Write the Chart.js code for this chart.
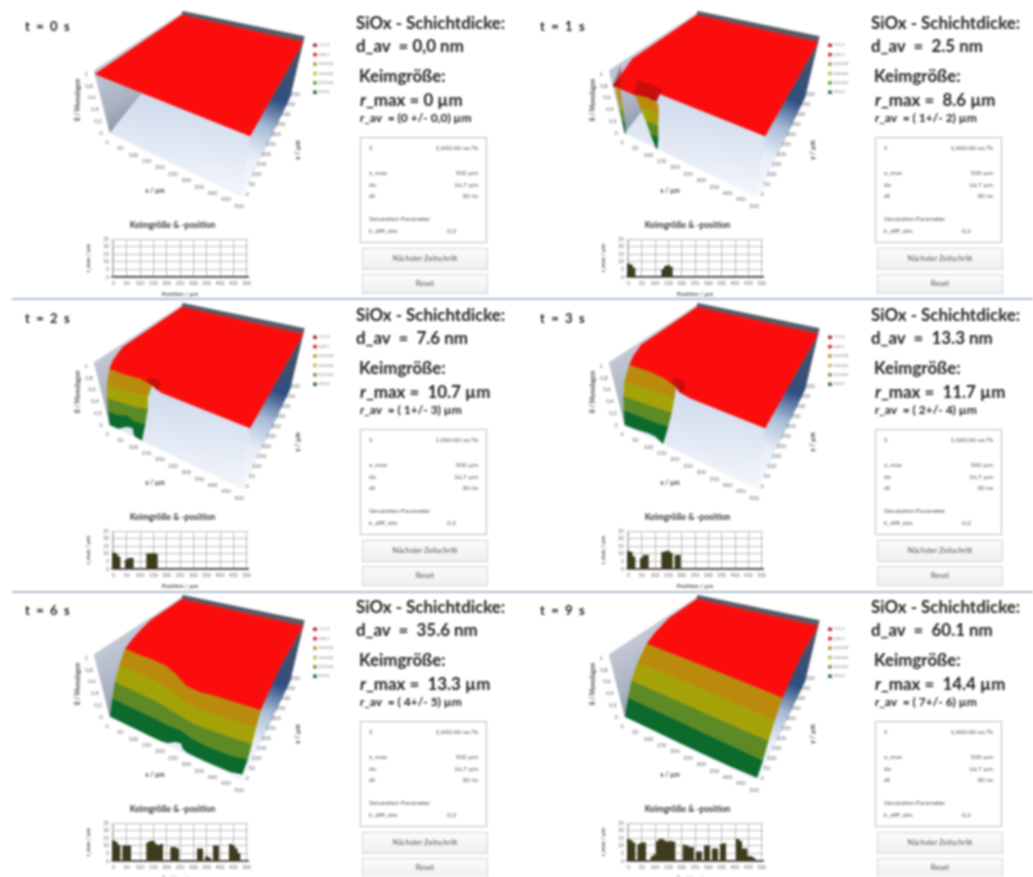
<!DOCTYPE html>
<html lang="de"><head><meta charset="utf-8">
<script src="https://cdn.jsdelivr.net/npm/chart.js@4"></script>
<style>
html,body{margin:0;padding:0;background:#fff;width:1033px;height:877px;overflow:hidden}
#page{position:relative;width:1033px;height:877px;overflow:hidden;filter:blur(.9px);font-family:Lato,"Open Sans",sans-serif;color:#222}
#page canvas{position:absolute}
.t{position:absolute;white-space:pre;line-height:1}
.b{font-weight:700}
.box{position:absolute;border:1px solid #b9bcc0;background:#fff}
.btn{position:absolute;border:1px solid #d2d4d6;background:linear-gradient(#fbfbfb,#f0f0f0);text-align:center;font-size:7.5px;color:#555}
.sep{position:absolute;left:12px;width:1021px;height:2px;background:#aebfd0}
</style></head><body><div id="page"></div>
<script>
// ---- text values per panel
const timeLabels=["t = 0 s","t = 1 s","t = 2 s","t = 3 s","t = 6 s","t = 9 s"];
const dAv=["0,0"," 2.5"," 7.6"," 13.3"," 35.6"," 60.1"];
const rMax=["0"," 8.6"," 10.7"," 11.7"," 13.3"," 14.4"];
const rAv=["(0 +/- 0,0)","( 1+/- 2)","( 1+/- 3)","( 2+/- 4)","( 4+/- 5)","( 7+/- 6)"];
// ---- seed-size bars: r_max in µm per 10 µm position bin (0..500)
const positions=[0,10,20,30,40,50,60,70,80,90,100,110,120,130,140,150,160,170,180,190,200,210,220,230,240,250,260,270,280,290,300,310,320,330,340,350,360,370,380,390,400,410,420,430,440,450,460,470,480,490,500];
const barsT0=[0,0,0,0,0,0,0,0,0,0,0,0,0,0,0,0,0,0,0,0,0,0,0,0,0,0,0,0,0,0,0,0,0,0,0,0,0,0,0,0,0,0,0,0,0,0,0,0,0,0,0];
const barsT1=[8.6,8,6,0,0,0,0,0,0,0,0,0,0,5,7,7.5,6.5,0,0,0,0,0,0,0,0,0,0,0,0,0,0,0,0,0,0,0,0,0,0,0,0,0,0,0,0,0,0,0,0,0,0];
const barsT2=[10.7,10,8,0,0,6,7,7,0,0,0,0,0,10,10,10.2,9.8,0,0,0,0,0,0,0,0,0,0,0,0,0,0,0,0,0,0,0,0,0,0,0,0,0,0,0,0,0,0,0,0,0,0];
const barsT3=[11.7,11,8,0,0,7,9,9,0,0,0,0,0,11,11.5,11.7,10.5,0,9,9,0,0,0,0,0,0,0,0,0,0,0,0,0,0,0,0,0,0,0,0,0,0,0,0,0,0,0,0,0,0,0];
const barsT6=[13.3,12.5,10.5,0,10,10,10,0,0,0,0,0,0,12,13,13,11,10,11,0,0,0,9,9,8,0,0,0,0,0,0,0,8,8,0,3,2,0,10,10,0,0,0,0,11,10,8,5,0,0,0];
const barsT9=[14.4,13.5,12,0,11,12,12,0,0,3,4,13,14.4,14,13,12.5,13,12.5,0,0,0,10.5,10,9,9,0,6,6,0,10,10,0,8,8,0,11,11.5,0,0,0,0,14.4,13,8,8,3,3,2,0,0,0];
const barSeries=[barsT0,barsT1,barsT2,barsT3,barsT6,barsT9];
// ---- 3D axes
const xyTicks=[0,50,100,150,200,250,300,350,400,450,500];
const zTicks=[0,0.2,0.4,0.6,0.8,1];
const legendLabels=["1-1,2","0,8-1","0,6-0,8","0,4-0,6","0,2-0,4","0-0,2"];
const legendColors=["#a83040","#dc3040","#b8a040","#c4c45c","#78a050","#2f7050"];
// ---- surface contours [x µm, y µm] at height levels 0.8,0.6,0.4,0.2,0 and red rim [x,y,z]
const rimT0=[[0,0,1],[500,0,1]];
const rimT1=[[0,130,1],[0,0,.8],[80,0,.8],[145,0,.85],[160,0,1],[500,0,1]];
const shadeT1a=[[70,0,.8],[72,30,.97],[110,45,.95],[155,30,.97],[160,0,1],[145,0,.82]];
const shadeT1b=[[0,60,1],[0,0,.8],[22,0,.8],[22,25,1]];
const sliverT1=[[[10,0],[22,0]],[[8,0],[18,0]],[[5,0],[14,0]],[[2,0],[9,0]],[[0,0],[3,0]]];
const coneT1=[[[75,0],[110,12],[150,0]],[[85,0],[115,10],[145,0]],[[97,0],[118,6],[138,0]],[[106,0],[120,3],[132,0]],[[118,0],[122,0]]];
const rimT2=[[0,160,1],[0,100,.9],[0,70,.8],[50,70,.8],[100,80,.8],[145,70,.8],[165,45,.9],[190,15,.97],[215,0,1],[500,0,1]];
const shadeT2a=[[125,75,.8],[130,92,.87],[165,75,.93],[195,38,1],[190,15,.97],[165,45,.9],[145,70,.8]];
const z80T2=[[0,70],[50,70],[100,80],[145,70]];
const z60T2=[[0,40],[50,45],[100,55],[130,60]];
const z40T2=[[0,22],[50,30],[100,40],[128,55]];
const z20T2=[[0,10],[30,12],[60,30],[90,18],[125,30]];
const z00T2=[[0,0],[30,2],[50,30],[70,35],[90,5],[120,0]];
const rimT3=[[0,180,1],[0,130,.9],[0,100,.8],[60,105,.8],[120,100,.8],[171,80,.8],[190,50,.9],[220,15,.97],[258,0,1],[500,0,1]];
const shadeT3a=[[150,88,.8],[155,108,.87],[195,85,.93],[225,40,1],[220,15,.97],[190,50,.9],[171,80,.8]];
const z80T3=[[0,100],[60,105],[120,100],[171,80]];
const z60T3=[[0,55],[60,65],[120,70],[165,70]];
const z40T3=[[0,32],[60,40],[120,48],[160,55]];
const z20T3=[[0,16],[60,22],[120,28],[152,35]];
const z00T3=[[0,0],[40,5],[80,15],[110,15],[130,5],[144,0]];
const rimT6=[[0,320,1],[0,270,.95],[0,215,.88],[0,165,.8],[50,160,.8],[100,160,.8],[150,155,.8],[200,130,.8],[250,95,.8],[300,90,.8],[350,100,.8],[400,105,.8],[450,110,.8],[500,115,.8],[500,200,.9],[500,300,1]];
const z80T6=[[0,165],[50,160],[100,160],[150,155],[200,130],[250,95],[300,90],[350,100],[400,105],[450,110],[500,115]];
const z60T6=[[0,120],[100,115],[150,110],[200,95],[250,70],[300,65],[350,70],[400,75],[450,80],[500,90]];
const z40T6=[[0,75],[100,72],[150,70],[200,60],[250,50],[300,42],[350,45],[400,50],[450,55],[500,65]];
const z20T6=[[0,40],[100,38],[150,38],[200,35],[250,38],[300,25],[350,22],[400,24],[450,30],[498,45]];
const z00T6=[[0,3],[100,3],[150,3],[195,4],[215,10],[235,30],[255,35],[270,15],[290,8],[350,8],[450,14],[490,28]];
const rimT9=[[0,340,1],[0,260,.9],[0,205,.8],[100,200,.8],[200,195,.8],[300,190,.8],[400,185,.8],[500,180,.8],[500,260,.9],[500,340,1]];
const z80T9=[[0,205],[100,200],[200,195],[300,190],[400,185],[500,180]];
const z60T9=[[0,140],[100,138],[200,135],[300,130],[400,128],[500,125]];
const z40T9=[[0,85],[100,85],[200,83],[300,82],[400,80],[500,80]];
const z20T9=[[0,45],[100,45],[200,44],[300,42],[400,42],[500,40]];
const z00T9=[[0,2],[100,3],[200,3],[300,5],[400,8],[495,14]];
const surfaces=[
 {rim:rimT0,shades:[],groups:[]},
 {rim:rimT1,shades:[shadeT1a,shadeT1b],groups:[sliverT1,coneT1]},
 {rim:rimT2,shades:[shadeT2a],groups:[[z80T2,z60T2,z40T2,z20T2,z00T2]]},
 {rim:rimT3,shades:[shadeT3a],groups:[[z80T3,z60T3,z40T3,z20T3,z00T3]]},
 {rim:rimT6,shades:[],groups:[[z80T6,z60T6,z40T6,z20T6,z00T6]]},
 {rim:rimT9,shades:[],groups:[[z80T9,z60T9,z40T9,z20T9,z00T9]]}
];
const bandLevels=[.8,.6,.4,.2,0];
const bandColors=["#b98a0c","#a5a208","#5e8a26","#0b6a2c"];
// ---- layout
const colX=[0,515], rowY=[0,292,584];
const TOP={A:[95,74],B:[250,136],C:[303,42],D:[182,15]};
const BOT={A:[110,133],B:[242,197],C:[290,97],D:[175,52]};
function bil(q,su,sv,k){return (1-su)*(1-sv)*q.A[k]+su*(1-sv)*q.B[k]+su*sv*q.C[k]+(1-su)*sv*q.D[k];}
function proj(u,v,z){const su=u/500,sv=v/500;
 const f=k=>{const b=bil(BOT,su,sv,k),t=bil(TOP,su,sv,k);return b+(t-b)*z;};
 return {x:f(0),y:f(1)};}
const page=document.getElementById('page');
function addT(cls,txt,x,y,size,extra){const d=document.createElement('div');d.className='t '+cls;d.textContent=txt;
 d.style.left=x+'px';d.style.top=y+'px';d.style.fontSize=size+'px';if(extra)d.style.cssText+=extra;page.appendChild(d);return d;}
function addR(txt,x,y,size){const d=addT('b','',x,y,size);const i=document.createElement('i');i.textContent='r';d.appendChild(i);d.appendChild(document.createTextNode(txt));return d;}
function mk(x,y,w,h){const c=document.createElement('canvas');c.width=w;c.height=h;c.style.left=x+'px';c.style.top=y+'px';c.style.width=w+'px';c.style.height=h+'px';page.appendChild(c);return c;}
function poly(pts,color){const data=pts.concat([pts[0]]);
 return {data,showLine:true,fill:'shape',backgroundColor:color,borderColor:color,borderWidth:.6,borderDash:[10,0],pointRadius:0,tension:0};}
function surfaceChart(i,ox,oy){
 const c=mk(ox+60,oy,280,222),g=c.getContext('2d');
 const off=(x)=>x-60;
 const wallG=g.createLinearGradient(off(90),60,off(130),135);wallG.addColorStop(0,'#c8ccd8');wallG.addColorStop(.6,'#aab2c2');wallG.addColorStop(1,'#7f8a9c');
 const floorG=g.createLinearGradient(off(190),70,off(175),190);floorG.addColorStop(0,'#c2d0e6');floorG.addColorStop(1,'#f4f7fc');
 const sideG=g.createLinearGradient(off(303),42,off(243),197);sideG.addColorStop(0,'#4f5560');sideG.addColorStop(.25,'#3a5074');sideG.addColorStop(.38,'#2f4f82');sideG.addColorStop(.56,'#a8bcd6');sideG.addColorStop(.75,'#e8eef8');sideG.addColorStop(1,'#f6f8fc');
 const s=surfaces[i],ds=[];
 ds.push(poly([proj(0,0,0),proj(0,500,0),proj(0,500,1.06),proj(0,0,1.06)],wallG));
 ds.push(poly([proj(0,0,0),proj(500,0,0),proj(500,500,0),proj(0,500,0)],floorG));
 ds.push(poly([proj(500,0,0),proj(500,500,0),proj(500,500,1),proj(500,0,1)],sideG));
 ds.push(poly([proj(0,500,1),proj(500,500,1),proj(500,500,1.1),proj(0,500,1.1)],'#565c68'));
 const red=[proj(0,500,1)].concat(s.rim.map(p=>proj(p[0],p[1],p[2])),[proj(500,500,1)]);
 ds.push(poly(red,'#fb0d0d'));
 s.shades.forEach(sh=>ds.push(poly(sh.map(p=>proj(p[0],p[1],p[2])),'rgba(130,15,15,.42)')));
 s.groups.forEach(gr=>{for(let k=0;k<4;k++){
   const hi=gr[k].map(p=>proj(p[0],p[1],bandLevels[k]));
   const lo=gr[k+1].map(p=>proj(p[0],p[1],bandLevels[k+1])).reverse();
   ds.push(poly(hi.concat(lo),bandColors[k]));}});
 const labels={id:'labels3d',afterDatasetsDraw(ch){
   const x=ch.scales.x,y=ch.scales.y,ct=ch.ctx;ct.save();ct.fillStyle='#666';ct.font='5.5px Lato,sans-serif';ct.textAlign='center';ct.textBaseline='middle';
   const put=(t,p,dx,dy)=>ct.fillText(t,x.getPixelForValue(p.x+dx),y.getPixelForValue(p.y+dy));
   xyTicks.forEach(v=>{put(String(v),proj(v,0,0),-3,9);put(String(v),proj(500,v,0),5,-3);});
   zTicks.forEach(v=>put(String(v).replace('.',','),proj(0,0,v),-9,0));
   ct.font='bold 6.5px Lato,sans-serif';ct.fillStyle='#444';
   put('x / µm',{x:155,y:191},0,0);
   [['y / µm',298,150],['θ / Monolagen',78,100]].forEach(r=>{ct.save();ct.translate(x.getPixelForValue(r[1]),y.getPixelForValue(r[2]));ct.rotate(-Math.PI/2);ct.fillText(r[0],0,0);ct.restore();});
   ct.font='4.5px Lato,sans-serif';ct.textAlign='left';
   legendLabels.forEach((l,k)=>{const yy=45+k*9.4;ct.fillStyle=legendColors[k];ct.fillRect(x.getPixelForValue(313),y.getPixelForValue(yy-1.5),4,3.5);ct.fillStyle='#777';ct.fillText(l,x.getPixelForValue(319),y.getPixelForValue(yy));});
   ct.restore();}};
 new Chart(c,{type:'scatter',data:{datasets:ds.reverse()},plugins:[labels],options:{
  responsive:false,animation:false,events:[],layout:{padding:0},
  plugins:{legend:{display:false},tooltip:{enabled:false},title:{display:false}},
  scales:{x:{type:'linear',min:60,max:340,display:false},y:{type:'linear',min:0,max:222,reverse:true,display:false}}}});
}
function barChart(i,ox,oy){
 const c=mk(ox+85,oy+218,175,82);
 new Chart(c,{type:'bar',data:{labels:positions,datasets:[{data:barSeries[i],backgroundColor:'#3f3b1e',barPercentage:1,categoryPercentage:1}]},options:{
  responsive:false,animation:false,events:[],layout:{padding:0},
  plugins:{legend:{display:false},tooltip:{enabled:false},title:{display:true,text:'Keimgröße & -position',color:'#333',font:{family:'Lato',size:8.5,weight:'bold'},padding:{top:2,bottom:9}}},
  scales:{
   x:{grid:{offset:false,color:ct=>ct.index%5===0?'#bdbdbd':'transparent',drawTicks:false},border:{color:'#333',width:1.5},
      ticks:{autoSkip:false,maxRotation:0,padding:3,color:'#666',font:{family:'Lato',size:5},callback(v,idx){return idx%5===0?positions[idx]:'';}},
      title:{display:true,text:'Position / µm',color:'#555',font:{family:'Lato',size:6,weight:'bold'},padding:{top:2,bottom:2}},
      afterFit(s){s.height=23;}},
   y:{min:0,max:25,grid:{color:'#bdbdbd',drawTicks:false},border:{color:'#bdbdbd'},
      ticks:{stepSize:5,autoSkip:false,padding:3,color:'#666',font:{family:'Lato',size:5}},
      title:{display:true,text:'r_max / µm',color:'#555',font:{family:'Lato',size:5.5,weight:'bold'},padding:{top:0,bottom:0}},
      afterFit(s){s.width=27;}},
   yPad:{type:'linear',position:'right',grid:{display:false},border:{display:false},ticks:{display:false},afterFit(s){s.width=12;}}}}});
}
function textBlock(i,ox,oy){
 addT('b',timeLabels[i],ox+25,oy+20,13,'letter-spacing:1.6px');
 addT('b','SiOx - Schichtdicke:',ox+356,oy+15,16.9);
 addT('b','d_av  = '+dAv[i]+' nm',ox+356,oy+38,16.9);
 addT('b','Keimgröße:',ox+359,oy+68,16.9);
 addR('_max = '+rMax[i]+' µm',ox+360,oy+92,16.9);
 addR('_av  = '+rAv[i]+' µm',ox+360,oy+112,12);
 const bx=document.createElement('div');bx.className='box';bx.style.cssText=`left:${ox+360}px;top:${oy+137}px;width:125px;height:104px`;page.appendChild(bx);
 const small=(l,r,y)=>{addT('',l,ox+369,oy+y,6.5,'color:#555');if(r){const d=addT('',r,0,oy+y,6.5,'color:#555');d.style.left='auto';d.style.right=(1033-(ox+478))+'px';}};
 small('S','1,000.00 us/Ts',145);small('x_max','500 µm',170);small('dx','16,7 µm',182);small('dt','30 ns',193);
 small('Simulation Parameter','',216);addT('','k_diff_sim',ox+369,oy+228,6.5,'color:#555');addT('','0,2',ox+447,oy+228,6.5,'color:#555');
 [['Nächster Zeitschritt',248,20],['Reset',274,18]].forEach(b=>{const d=document.createElement('div');d.className='btn';d.textContent=b[0];
  d.style.cssText=`left:${ox+362}px;top:${oy+b[1]}px;width:124px;height:${b[2]}px;line-height:${b[2]}px`;page.appendChild(d);});
}
let n=0;
rowY.forEach(oy=>colX.forEach(ox=>{surfaceChart(n,ox,oy);barChart(n,ox,oy);textBlock(n,ox,oy);n++;}));
[298,591].forEach(y=>{const d=document.createElement('div');d.className='sep';d.style.top=y+'px';page.appendChild(d);});
</script></body></html>
